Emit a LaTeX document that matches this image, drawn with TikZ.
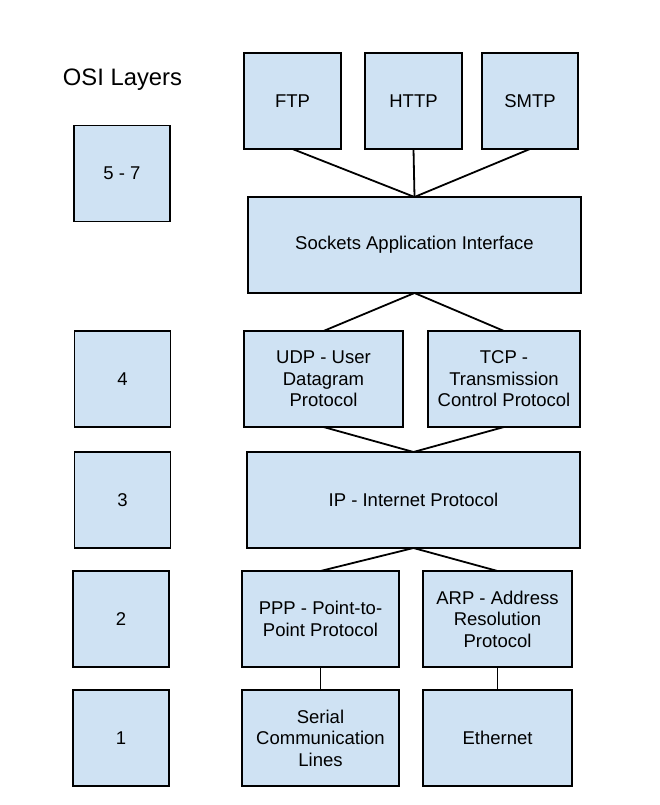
\documentclass[tikz,border=0pt]{standalone}
\usepackage{fontspec}
\setmainfont{Liberation Sans}
\definecolor{boxfill}{HTML}{CFE2F3}
\begin{document}
\begin{tikzpicture}[x=1pt,y=-1pt,
  box/.style={draw=black, fill=boxfill, line width=1.8pt, inner sep=0pt, outer sep=0pt,
    minimum height=96pt, align=center, font=\fontsize{18.5}{21.5}\selectfont},
  link/.style={line width=1.8pt}]
\useasboundingbox (0,0) rectangle (660,805);
\fill[white] (0,0) rectangle (660,805);
% OSI layer column
\node[anchor=base, font=\fontsize{23.8}{26}\selectfont] (title) at (122.5,86) {OSI Layers};
\node[box, minimum width=96pt] (l57) at (122,173.5) {5 - 7};
\node[box, minimum width=96pt] (l4) at (122.5,379) {4};
\node[box, minimum width=96pt] (l3) at (122.5,500) {3};
\node[box, minimum width=96pt] (l2) at (121,619) {2};
\node[box, minimum width=96pt] (l1) at (121,738) {1};
% protocols
\node[box, minimum width=97pt] (ftp) at (292.5,101) {FTP};
\node[box, minimum width=97pt] (http) at (413.5,101) {HTTP};
\node[box, minimum width=96pt] (smtp) at (530,101) {SMTP};
\node[box, minimum width=333pt] (sock) at (414.5,245) {Sockets Application Interface};
\node[box, minimum width=159pt] (udp) at (323.5,379) {UDP - User\\Datagram\\Protocol};
\node[box, minimum width=152pt] (tcp) at (504,379) {TCP -\\Transmission\\Control Protocol};
\node[box, minimum width=333pt] (ip) at (413.5,500) {IP - Internet Protocol};
\node[box, minimum width=157pt] (ppp) at (320.5,619) {PPP - Point-to-\\Point Protocol};
\node[box, minimum width=149pt] (arp) at (497.5,619) {ARP - Address\\Resolution\\Protocol};
\node[box, minimum width=157pt] (serial) at (320.5,738) {Serial\\Communication\\Lines};
\node[box, minimum width=149pt] (eth) at (497.5,738) {Ethernet};
% connectors
\draw[link] (ftp.south) -- (sock.north);
\draw[link] (http.south) -- (sock.north);
\draw[link] (smtp.south) -- (sock.north);
\draw[link] (sock.south) -- (udp.north);
\draw[link] (sock.south) -- (tcp.north);
\draw[link] (udp.south) -- (ip.north);
\draw[link] (tcp.south) -- (ip.north);
\draw[link] (ip.south) -- (ppp.north);
\draw[link] (ip.south) -- (arp.north);
\draw[link] (ppp.south) -- (serial.north);
\draw[link] (arp.south) -- (eth.north);
\end{tikzpicture}
\end{document}
